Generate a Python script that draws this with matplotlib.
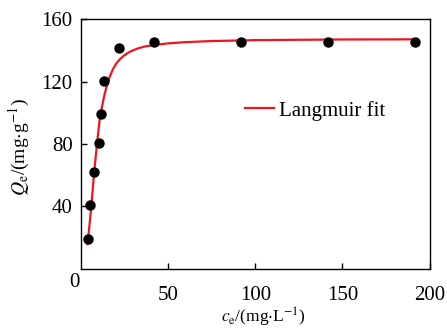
import matplotlib
matplotlib.use('Agg')
import matplotlib.pyplot as plt

plt.rcParams['font.family'] = ['Liberation Serif', 'DejaVu Serif']
plt.rcParams['mathtext.fontset'] = 'stix'

# measured points
ce = [4.0, 5.2, 7.5, 10.3, 11.7, 13.2, 22.0, 41.9, 92.0, 141.9, 191.7]
qe = [19.0, 41.0, 62.3, 80.8, 99.2, 120.5, 141.6, 145.0, 145.5, 145.0, 145.5]

# fitted curve
fit_c = [3.6, 4.0, 5.0, 5.9, 7.5, 9.4, 10.7, 12.0, 13.2, 14.8, 16.5, 18.3, 20.3, 22.6,
         25.1, 28.5, 32.7, 37.0, 42.3, 49.9, 60.0, 75.0, 100.0, 150.0, 192.0]
fit_q = [16.0, 18.6, 29.5, 39.9, 61.2, 82.6, 95.4, 103.5, 110.3, 117.3, 123.1, 127.8, 131.6, 134.6,
         137.0, 139.3, 141.2, 142.5, 143.4, 144.4, 145.2, 145.9, 146.5, 146.9, 147.0]

xticks = [50, 100, 150, 200]
yticks = [40, 80, 120, 160]

fig = plt.figure(figsize=(4.47, 3.28), dpi=100)
ax = fig.add_axes([0.1812, 0.180, 0.7798, 0.762])

ax.plot(fit_c, fit_q, color='#f0141e', linewidth=1.6, label='Langmuir fit', zorder=2)
ax.plot(ce, qe, 'o', color='black', markersize=6.5, zorder=3)

ax.set_xlim(0, 200)
ax.set_ylim(0, 160)
ax.set_xticks(xticks)
ax.set_yticks(yticks)
ax.tick_params(axis='both', direction='in', length=4, width=1, labelsize=15)
ax.tick_params(axis='x', pad=12.5)
ax.tick_params(axis='y', pad=6)
for s in ax.spines.values():
    s.set_linewidth(1)

ax.annotate('0', xy=(0, 0), xycoords='axes fraction', xytext=(-5, -10),
            textcoords='offset points', ha='center', va='center', fontsize=15)

ax.set_xlabel(r'$c_\mathrm{e}$/(mg$\cdot$L$^{-1}$)', fontsize=12.5)
ax.xaxis.set_label_coords(0.522, -0.146)
ax.set_ylabel(r'$Q_\mathrm{e}$/(mg$\cdot$g$^{-1}$)', fontsize=14)
ax.yaxis.set_label_coords(-0.141, 0.49)

ax.legend(loc='upper left', bbox_to_anchor=(0.417, 0.748), frameon=False,
          fontsize=15, handlelength=1.4, handletextpad=0.25)

fig.savefig('out.png', dpi=100)
